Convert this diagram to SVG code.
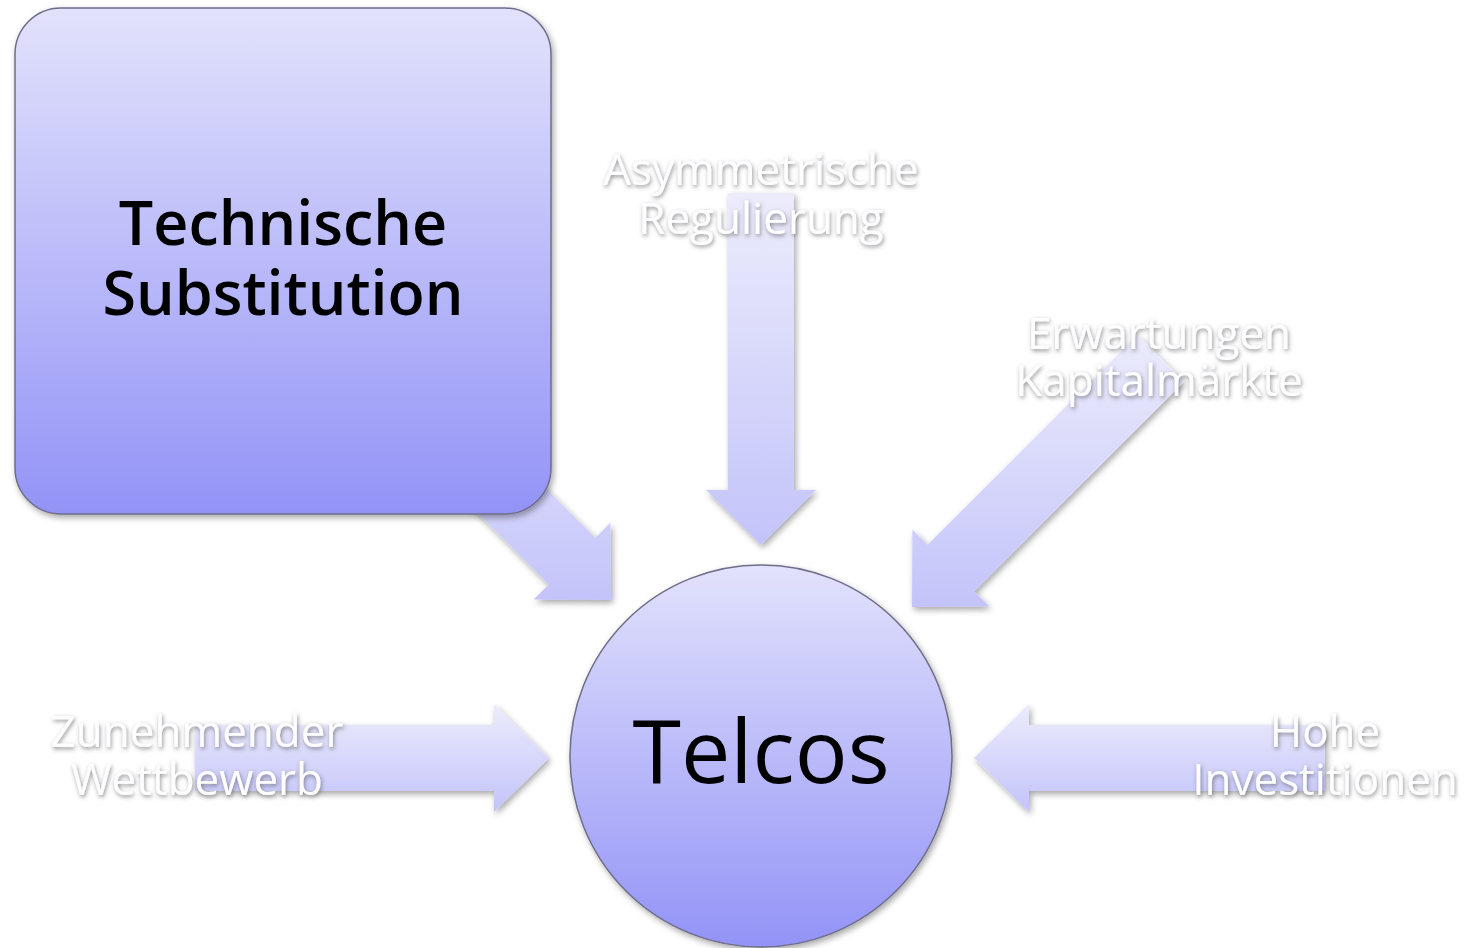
<svg xmlns="http://www.w3.org/2000/svg" width="1474" height="948" viewBox="0 0 1474 948">
  <defs>
    <linearGradient id="nodeFill" x1="0" y1="0" x2="0" y2="1">
      <stop offset="0" stop-color="#e2e2fc"/>
      <stop offset="1" stop-color="#9393f7"/>
    </linearGradient>
    <linearGradient id="arrowFill" x1="0" y1="0" x2="0" y2="1">
      <stop offset="0" stop-color="#ececfc"/>
      <stop offset="1" stop-color="#c3c3fa"/>
    </linearGradient>
    <filter id="shadow" x="-10%" y="-10%" width="130%" height="130%">
      <feDropShadow dx="2" dy="3" stdDeviation="3" flood-color="#000" flood-opacity="0.35"/>
    </filter>
    <filter id="textShadow" x="-10%" y="-20%" width="120%" height="150%">
      <feDropShadow dx="1" dy="2" stdDeviation="2" flood-color="#444" flood-opacity="0.6"/>
    </filter>
  </defs>
  <style>
    .arrow { fill: url(#arrowFill); filter: url(#shadow); }
    .node { fill: url(#nodeFill); stroke: #6e6e8a; stroke-width: 1.5; filter: url(#shadow); }
    .label { font-family: "Open Sans", "Noto Sans", sans-serif; font-size: 44px; fill: #fdfdff; text-anchor: middle; filter: url(#textShadow); }
    .title { font-family: "Open Sans", "Noto Sans", sans-serif; fill: #000; text-anchor: middle; }
  </style>

  <!-- connectors: block arrows pointing at the central circle -->
  <g id="connectors">
    <path id="arrow-substitution" class="arrow" d="M385.4,327.8 L595.4,537.8 L610.6,522.6 L611,600 L533.6,599.6 L548.8,584.4 L338.8,374.4 Z"/>
    <path id="arrow-regulierung" class="arrow" d="M728,193 H794 V490 H816 L761,545 L706,490 H728 Z"/>
    <path id="arrow-kapitalmaerkte" class="arrow" d="M1137.6,334.8 L1184.2,381.4 L974.2,591.4 L989.4,606.6 L912,607 L912.4,529.6 L927.6,544.8 Z"/>
    <path id="arrow-wettbewerb" class="arrow" d="M195,725 H494 V704 L549,758 L494,812 V791 H195 Z"/>
    <path id="arrow-investitionen" class="arrow" d="M1325,725 H1029 V704 L974,758 L1029,812 V791 H1325 Z"/>
  </g>

  <!-- arrow labels -->
  <g id="label-regulierung">
    <text class="label" x="761" y="185">Asymmetrische</text>
    <text class="label" x="761" y="234">Regulierung</text>
  </g>
  <g id="label-kapitalmaerkte">
    <text class="label" x="1159" y="349">Erwartungen</text>
    <text class="label" x="1159" y="396" font-size="45">Kapitalmärkte</text>
  </g>
  <g id="label-wettbewerb">
    <text class="label" x="197" y="747">Zunehmender</text>
    <text class="label" x="197" y="795">Wettbewerb</text>
  </g>
  <g id="label-investitionen">
    <text class="label" x="1325" y="747">Hohe</text>
    <text class="label" x="1325" y="795" font-size="45">Investitionen</text>
  </g>

  <!-- source node -->
  <g id="node-substitution">
    <rect class="node" x="15" y="8" width="536" height="506" rx="46" ry="46"/>
    <text class="title" x="283" y="245" font-size="61" font-weight="600">Technische</text>
    <text class="title" x="283" y="315" font-size="61" font-weight="600">Substitution</text>
  </g>

  <!-- central node -->
  <g id="node-telcos">
    <circle class="node" cx="761" cy="756" r="191"/>
    <text class="title" x="761" y="783" font-size="88">Telcos</text>
  </g>
</svg>
